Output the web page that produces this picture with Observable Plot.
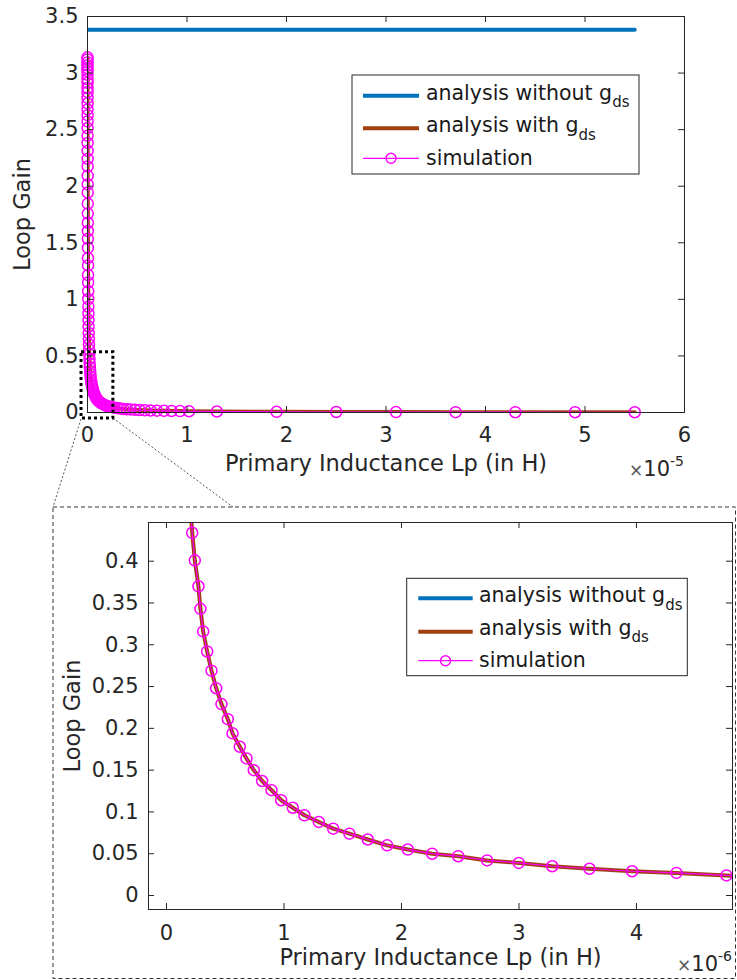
<!DOCTYPE html>
<html>
<head>
<meta charset="utf-8">
<script src="https://cdn.jsdelivr.net/npm/d3@7"></script>
<script src="https://cdn.jsdelivr.net/npm/@observablehq/plot@0.6"></script>
<style>
  html, body { margin: 0; padding: 0; background: #fff; }
  #fig { position: relative; width: 737px; height: 980px; font-family: "DejaVu Sans", sans-serif; }
  #fig > svg { position: absolute; left: 0; }
</style>
</head>
<body>
<div id="fig"></div>
<script>
// ---- Loop gain versus primary inductance ----
// Simulated sweep (Lp in µH)
const simLpMicroH = [
  0.0025, 0.0027, 0.0030, 0.0033, 0.0036, 0.0039, 0.0043, 0.0048, 0.0052, 0.0058,
  0.0063, 0.0070, 0.0077, 0.0085, 0.0093, 0.0102, 0.0112, 0.0124, 0.0136, 0.0150,
  0.0165, 0.0180, 0.0200, 0.0220, 0.0240, 0.0270, 0.0300, 0.0330, 0.0360, 0.0390,
  0.0430, 0.0480, 0.0520, 0.0580, 0.0630, 0.0700, 0.0770, 0.0850, 0.0930, 0.1020,
  0.1120, 0.1240, 0.1360, 0.1500, 0.1650, 0.1810, 0.1990,
  0.219, 0.241, 0.272, 0.289, 0.312, 0.346, 0.383, 0.423, 0.468, 0.522,
  0.562, 0.624, 0.681, 0.743, 0.814, 0.894, 0.976, 1.075, 1.174, 1.296,
  1.419, 1.557, 1.713, 1.878, 2.054, 2.261, 2.483, 2.729, 2.998, 3.283,
  3.600, 3.963, 4.340, 4.766,
  5.24, 5.77, 6.34, 6.98, 7.68, 8.44, 9.29, 10.2,
  13, 19, 25, 31, 37, 43, 49, 55
];
const simGain = [
  3.139, 3.121, 3.094, 3.069, 3.043, 3.018, 2.985, 2.945, 2.914, 2.868,
  2.831, 2.781, 2.733, 2.679, 2.628, 2.573, 2.514, 2.447, 2.383, 2.313,
  2.242, 2.175, 2.092, 2.016, 1.944, 1.846, 1.758, 1.677, 1.604, 1.536,
  1.455, 1.365, 1.300, 1.214, 1.150, 1.072, 1.003, 0.935, 0.875, 0.817,
  0.760, 0.702, 0.652, 0.602, 0.556, 0.515, 0.475,
  0.434, 0.401, 0.370, 0.343, 0.316, 0.292, 0.269, 0.248, 0.229, 0.211,
  0.194, 0.178, 0.164, 0.150, 0.137, 0.126, 0.114, 0.105, 0.096, 0.088,
  0.080, 0.074, 0.067, 0.060, 0.055, 0.050, 0.047, 0.042, 0.039, 0.035,
  0.032, 0.029, 0.027, 0.024,
  0.0216, 0.0196, 0.0179, 0.0162, 0.0148, 0.0134, 0.0122, 0.0111,
  0.0087, 0.0060, 0.0045, 0.0037, 0.0031, 0.0026, 0.0023, 0.0021
];
// Analysis including g_ds: lies on the simulated sweep
const gdsLpMicroH = simLpMicroH;
const gdsGain = simGain;
// Analysis neglecting g_ds: flat
const noGdsLpMicroH = [0, 55];
const noGdsGain = [3.383, 3.383];

// Axis ticks
const topXTicks = [0, 1, 2, 3, 4, 5, 6];            // × 1e-5 H
const topYTicks = [0, 0.5, 1, 1.5, 2, 2.5, 3, 3.5];
const topYTickLabels = ["0", "0.5", "1", "1.5", "2", "2.5", "3", "3.5"];
const insetXTicks = [0, 1, 2, 3, 4];                // × 1e-6 H
const insetYTicks = [0, 0.05, 0.1, 0.15, 0.2, 0.25, 0.3, 0.35, 0.4];
const insetYTickLabels = ["0", "0.05", "0.1", "0.15", "0.2", "0.25", "0.3", "0.35", "0.4"];

// Region of the main axes that is magnified below (data units)
const zoomWindow = { lp1: -0.6e-6, lp2: 2.6e-6, gain1: -0.053, gain2: 0.533 };

const legendItems = [
  { main: "analysis without g", sub: "ds", key: "noGds" },
  { main: "analysis with g", sub: "ds", key: "gds" },
  { main: "simulation", sub: "", key: "sim" }
];

// ---- styling ----
const FONT = "DejaVu Sans";
const INK = "#262626";
const SERIES = {
  noGds: { color: "#0072BD", width: 4, marker: false },
  gds:   { color: "#A0400F", width: 4, marker: false },
  sim:   { color: "#FF00FF", width: 1.2, marker: true }
};

const toRows = (lps, gains) => lps.map((v, i) => ({ lp: v * 1e-6, gain: gains[i] }));
const simRows = toRows(simLpMicroH, simGain);
const gdsRows = toRows(gdsLpMicroH, gdsGain);
const noGdsRows = toRows(noGdsLpMicroH, noGdsGain);

function panel(o) {
  const innerW = o.width - o.ml - o.mr;
  const innerH = o.height - o.mt - o.mb;
  const inside = d => d.lp >= o.xDomain[0] && d.lp <= o.xDomain[1] && d.gain >= o.yDomain[0] && d.gain <= o.yDomain[1];
  const xTickVals = o.xTicks.map(t => t * o.xUnit);
  const yLabel = new Map(o.yTicks.map((t, i) => [t, o.yTickLabels[i]]));
  return Plot.plot({
    width: o.width, height: o.height,
    marginTop: o.mt, marginRight: o.mr, marginBottom: o.mb, marginLeft: o.ml,
    x: { type: "linear", domain: o.xDomain, axis: null },
    y: { type: "linear", domain: o.yDomain, axis: null },
    style: { fontFamily: FONT, fontSize: "21px", color: INK, background: "none", overflow: "visible" },
    marks: [
      Plot.line(noGdsRows, { x: "lp", y: "gain", stroke: SERIES.noGds.color, strokeWidth: SERIES.noGds.width, clip: true }),
      Plot.line(gdsRows, { x: "lp", y: "gain", stroke: SERIES.gds.color, strokeWidth: SERIES.gds.width, clip: true }),
      Plot.line(simRows, { x: "lp", y: "gain", stroke: SERIES.sim.color, strokeWidth: SERIES.sim.width, clip: true }),
      Plot.dot(simRows.filter(inside), { x: "lp", y: "gain", r: 5.5, stroke: SERIES.sim.color, strokeWidth: 1.5, fill: "none" }),
      ...(o.extra || []),
      Plot.frame({ stroke: INK, strokeWidth: 1 }),
      // inward ticks on all four sides
      Plot.tickX(xTickVals, { x: d => d, stroke: INK, insetTop: innerH - 6 }),
      Plot.tickX(xTickVals, { x: d => d, stroke: INK, insetBottom: innerH - 6 }),
      Plot.tickY(o.yTicks, { y: d => d, stroke: INK, insetRight: innerW - 6 }),
      Plot.tickY(o.yTicks, { y: d => d, stroke: INK, insetLeft: innerW - 6 }),
      // tick labels
      Plot.text(o.xTicks, { x: d => d * o.xUnit, frameAnchor: "bottom", lineAnchor: "top", textAnchor: "middle",
        dy: o.xTickPad, text: d => String(d), fill: INK, fontSize: 21 }),
      Plot.text(o.yTicks, { y: d => d, frameAnchor: "left", lineAnchor: "middle", textAnchor: "end",
        dx: -o.yTickPad, text: d => yLabel.get(d), fill: INK, fontSize: 21 }),
      // axis titles
      Plot.text(["Primary Inductance Lp (in H)"], { frameAnchor: "bottom", lineAnchor: "middle", textAnchor: "middle",
        dy: o.xLabelDy, text: d => d, fill: INK, fontSize: 22.5 }),
      Plot.text(["Loop Gain"], { frameAnchor: "left", lineAnchor: "middle", textAnchor: "middle",
        dx: o.yLabelDx, rotate: -90, text: d => d, fill: INK, fontSize: 22.5 })
    ]
  });
}

const fig = document.getElementById("fig");

const mainChart = panel({
  width: 737, height: 480, mt: 16, mr: 53, mb: 68, ml: 87,
  xDomain: [0, 6e-5], yDomain: [0, 3.5], xUnit: 1e-5,
  xTicks: topXTicks, yTicks: topYTicks, yTickLabels: topYTickLabels,
  xTickPad: 15, yTickPad: 9, xLabelDy: 51, yLabelDx: -65,
  extra: [
    Plot.rect([zoomWindow], { x1: "lp1", x2: "lp2", y1: "gain1", y2: "gain2",
      fill: "none", stroke: "#000", strokeWidth: 3, strokeDasharray: "3,3" })
  ]
});
mainChart.style.top = "0px";
fig.appendChild(mainChart);

const insetOffset = 490;
const insetChart = panel({
  width: 737, height: 490, mt: 32, mr: 5, mb: 71, ml: 148,
  xDomain: [-0.153e-6, 4.817e-6], yDomain: [-0.01675, 0.4463], xUnit: 1e-6,
  xTicks: insetXTicks, yTicks: insetYTicks, yTickLabels: insetYTickLabels,
  xTickPad: 16, yTickPad: 10, xLabelDy: 48, yLabelDx: -76
});
insetChart.style.top = insetOffset + "px";
fig.appendChild(insetChart);

// ---- overlay: magnifier frame, leader lines, legends, exponents ----
const overlay = d3.create("svg")
  .attr("width", 737).attr("height", 980)
  .attr("font-family", FONT)
  .style("top", "0px").style("pointer-events", "none");

const sx = mainChart.scale("x"), sy = mainChart.scale("y");
const boxL = sx.apply(zoomWindow.lp1), boxR = sx.apply(zoomWindow.lp2), boxB = sy.apply(zoomWindow.gain1);
const border = { x0: 53, y0: 507, x1: 735.5, y1: 978.5 };

overlay.append("rect")
  .attr("x", border.x0).attr("y", border.y0)
  .attr("width", border.x1 - border.x0).attr("height", border.y1 - border.y0)
  .attr("fill", "none").attr("stroke", "#333").attr("stroke-width", 1).attr("stroke-dasharray", "4,3");
overlay.append("line")
  .attr("x1", boxL).attr("y1", boxB + 1).attr("x2", border.x0).attr("y2", border.y0)
  .attr("stroke", "#444").attr("stroke-width", 0.9).attr("stroke-dasharray", "2,2");
overlay.append("line")
  .attr("x1", boxR).attr("y1", boxB).attr("x2", 233).attr("y2", border.y0)
  .attr("stroke", "#444").attr("stroke-width", 0.9).attr("stroke-dasharray", "2,2");

function legend(L) {
  const g = overlay.append("g");
  g.append("rect")
    .attr("x", L.x0).attr("y", L.y0).attr("width", L.x1 - L.x0).attr("height", L.y1 - L.y0)
    .attr("fill", "#fff").attr("stroke", INK).attr("stroke-width", 1);
  legendItems.forEach((it, i) => {
    const s = SERIES[it.key], r = L.rows[i];
    g.append("line")
      .attr("x1", L.lx0).attr("x2", L.lx1).attr("y1", r.line).attr("y2", r.line)
      .attr("stroke", s.color).attr("stroke-width", s.width);
    if (s.marker) {
      g.append("circle").attr("cx", (L.lx0 + L.lx1) / 2).attr("cy", r.line).attr("r", 5)
        .attr("fill", "none").attr("stroke", s.color).attr("stroke-width", 1.4);
    }
    const t = g.append("text").attr("x", L.tx).attr("y", r.base).attr("font-size", 20.5).attr("fill", "#1a1a1a");
    t.append("tspan").text(it.main);
    if (it.sub) t.append("tspan").attr("font-size", 15).attr("dy", 7.5).text(it.sub);
  });
}

legend({ x0: 352, y0: 75, x1: 639, y1: 174, lx0: 363, lx1: 419, tx: 426,
  rows: [{ line: 95.7, base: 99.5 }, { line: 128.3, base: 132 }, { line: 158.3, base: 165 }] });
legend({ x0: 406.7, y0: 578.3, x1: 687.3, y1: 675.7, lx0: 418.3, lx1: 472.7, tx: 479,
  rows: [{ line: 598.3, base: 602 }, { line: 631.7, base: 634.5 }, { line: 660.7, base: 667 }] });

function exponent(xRight, baseline, power) {
  const t = overlay.append("text").attr("x", xRight).attr("y", baseline)
    .attr("text-anchor", "end").attr("fill", INK).attr("font-size", 21);
  t.append("tspan").attr("fill", "#555").attr("font-size", 17).text("×");
  t.append("tspan").text("10");
  t.append("tspan").attr("font-size", 14).attr("dy", -10).text(power);
}
exponent(684, 475.5, "-5");
exponent(732, 970.5, "-6");

fig.appendChild(overlay.node());
</script>
</body>
</html>
